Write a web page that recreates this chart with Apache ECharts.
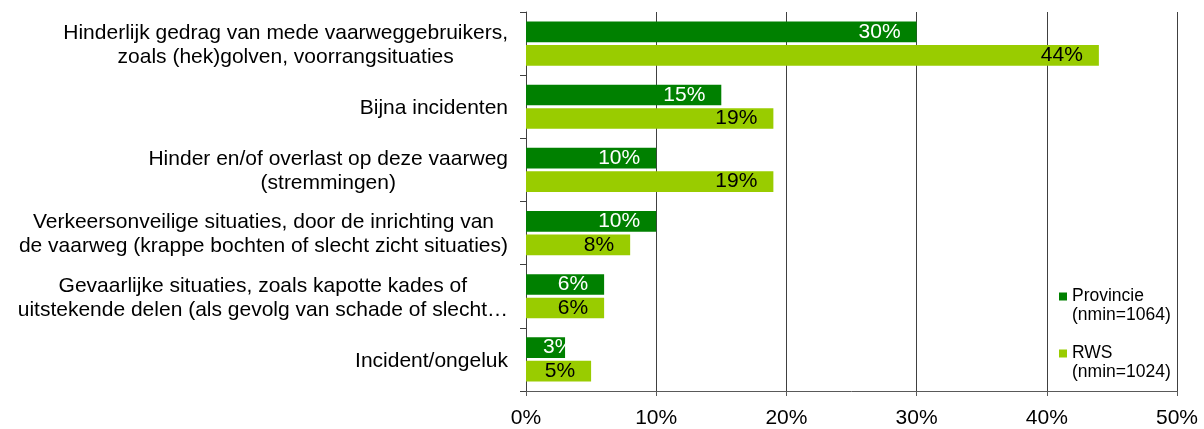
<!DOCTYPE html>
<html>
<head>
<meta charset="utf-8">
<script src="https://cdn.jsdelivr.net/npm/echarts@6/dist/echarts.min.js"></script>
<style>
  html, body { margin: 0; padding: 0; background: #fff; }
  #main { width: 1204px; height: 429px; }
</style>
</head>
<body>
<div id="main"></div>
<script>
// categories, top to bottom
var categories = [
  'Hinderlijk gedrag van mede vaarweggebruikers,\nzoals (hek)golven, voorrangsituaties',
  'Bijna incidenten',
  'Hinder en/of overlast op deze vaarweg\n(stremmingen)',
  'Verkeersonveilige situaties, door de inrichting van\nde vaarweg (krappe bochten of slecht zicht situaties)',
  'Gevaarlijke situaties, zoals kapotte kades of\nuitstekende delen (als gevolg van schade of slecht…',
  'Incident/ongeluk'
];
var provincie = [30, 15, 10, 10, 6, 3];
var rws = [44, 19, 19, 8, 6, 5];
// leading empty line keeps the legend square next to the first line
var legendText = {
  'Provincie': '\nProvincie\n(nmin=1064)',
  'RWS': '\nRWS\n(nmin=1024)'
};

// short bars get their label from the left edge instead
function barData(values) {
  return values.map(function (v) {
    if (v < 5) {
      return { value: v, label: { position: 'insideLeft', distance: 17 } };
    }
    return v;
  });
}

var chart = echarts.init(document.getElementById('main'));

var option = {
  animation: false,
  textStyle: { fontFamily: 'Liberation Sans, Arial, sans-serif' },
  grid: { left: 526, right: 27, top: 12, bottom: 37 },
  legend: {
    orient: 'vertical',
    left: 1054,
    top: 263,
    itemWidth: 8,
    itemHeight: 8,
    itemGap: 0,
    icon: 'rect',
    textStyle: { fontSize: 17.5, color: '#000', lineHeight: 19 },
    formatter: function (name) { return legendText[name]; },
    data: ['Provincie', 'RWS']
  },
  xAxis: {
    type: 'value',
    min: 0,
    max: 50,
    interval: 10,
    axisLine: { show: true, lineStyle: { color: '#595959' } },
    axisTick: { show: true, length: 5, lineStyle: { color: '#595959' } },
    splitLine: { show: true, lineStyle: { color: '#404040', width: 1 } },
    axisLabel: { formatter: '{value}%', fontSize: 21, color: '#000', margin: 17 }
  },
  yAxis: {
    type: 'category',
    inverse: true,
    data: categories,
    axisLine: { show: true, lineStyle: { color: '#404040' } },
    axisTick: { show: true, length: 6, lineStyle: { color: '#404040' } },
    axisLabel: {
      margin: 18,
      color: '#000',
      formatter: function (v) {
        return v.split('\n').map(function (l) { return '{c|' + l + '}'; }).join('\n');
      },
      rich: {
        c: { fontSize: 21, lineHeight: 24, align: 'center', color: '#000', padding: [3, 0, 0, 0] }
      }
    }
  },
  series: [
    {
      name: 'Provincie',
      type: 'bar',
      data: barData(provincie),
      barGap: '14%',
      barCategoryGap: '30%',
      itemStyle: { color: '#008000' },
      label: {
        show: true, position: 'insideRight', formatter: '{c}%',
        color: '#fff', fontSize: 21, distance: 16
      }
    },
    {
      name: 'RWS',
      type: 'bar',
      data: barData(rws),
      barGap: '14%',
      barCategoryGap: '30%',
      itemStyle: { color: '#99cc00' },
      label: {
        show: true, position: 'insideRight', formatter: '{c}%',
        color: '#000', fontSize: 21, distance: 16
      }
    }
  ]
};

chart.setOption(option);
</script>
</body>
</html>
